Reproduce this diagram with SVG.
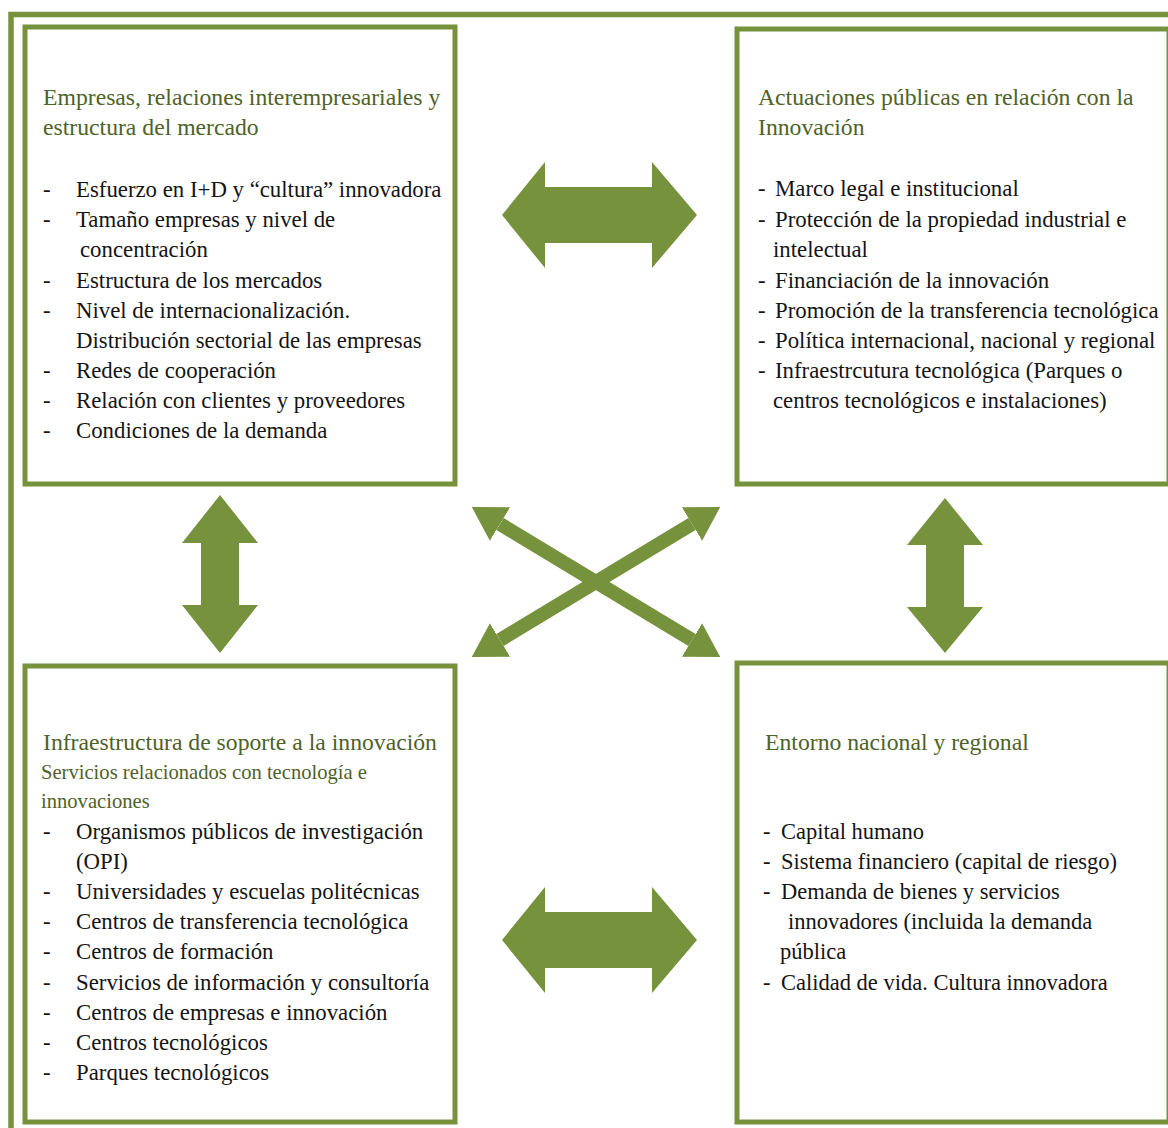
<svg xmlns="http://www.w3.org/2000/svg" width="1168" height="1128" viewBox="0 0 1168 1128">
  <style>
    .frame { fill: none; stroke: #76923C; stroke-width: 5.5; }
    .box { fill: #FFFFFF; stroke: #76923C; stroke-width: 5; }
    text { font-family: "Liberation Serif", "DejaVu Serif", serif; }
    .head { font-size: 23.7px; fill: #4F6228; }
    .sub { font-size: 20.6px; fill: #4F6228; }
    .item { font-size: 22.8px; fill: #141414; }
    #entorno .item { font-size: 22.5px; }
    .block { fill: #76923C; }
    .diag { stroke: #76923C; stroke-width: 14; fill: none; marker-start: url(#tip); marker-end: url(#tip); }
  </style>
  <defs>
    <marker id="tip" markerUnits="userSpaceOnUse" viewBox="0 -20 34 40" refX="0" refY="0" markerWidth="34" markerHeight="40" orient="auto-start-reverse">
      <path d="M0,-19.5 L33,0 L0,19.5 Z" fill="#76923C"/>
    </marker>
  </defs>

  <rect width="1168" height="1128" fill="#FFFFFF"/>

  <!-- outer frame, running off the right and bottom edges -->
  <path class="frame" d="M11,1135 V14.5 H1175"/>

  <!-- top-left: firms -->
  <g id="empresas">
    <rect class="box" x="25" y="27" width="430" height="457"/>
    <text class="head" x="43" y="105">Empresas, relaciones interempresariales y</text>
    <text class="head" x="43" y="135">estructura del mercado</text>
    <text class="item" x="43" y="197">-</text><text class="item" x="76" y="197">Esfuerzo en I+D y “cultura” innovadora</text>
    <text class="item" x="43" y="227">-</text><text class="item" x="76" y="227">Tamaño empresas y nivel de</text>
    <text class="item" x="80" y="257">concentración</text>
    <text class="item" x="43" y="288">-</text><text class="item" x="76" y="288">Estructura de los mercados</text>
    <text class="item" x="43" y="318">-</text><text class="item" x="76" y="318">Nivel de internacionalización.</text>
    <text class="item" x="76" y="348">Distribución sectorial de las empresas</text>
    <text class="item" x="43" y="378">-</text><text class="item" x="76" y="378">Redes de cooperación</text>
    <text class="item" x="43" y="408">-</text><text class="item" x="76" y="408">Relación con clientes y proveedores</text>
    <text class="item" x="43" y="438">-</text><text class="item" x="76" y="438">Condiciones de la demanda</text>
  </g>

  <!-- top-right: public action -->
  <g id="actuaciones">
    <rect class="box" x="737" y="29" width="432" height="455"/>
    <text class="head" x="758" y="105">Actuaciones públicas en relación con la</text>
    <text class="head" x="758" y="135">Innovación</text>
    <text class="item" x="758" y="196">-</text><text class="item" x="775" y="196">Marco legal e institucional</text>
    <text class="item" x="758" y="227">-</text><text class="item" x="775" y="227">Protección de la propiedad industrial e</text>
    <text class="item" x="773" y="257">intelectual</text>
    <text class="item" x="758" y="288">-</text><text class="item" x="775" y="288">Financiación de la innovación</text>
    <text class="item" x="758" y="318">-</text><text class="item" x="775" y="318">Promoción de la transferencia tecnológica</text>
    <text class="item" x="758" y="348">-</text><text class="item" x="775" y="348">Política internacional, nacional y regional</text>
    <text class="item" x="758" y="378">-</text><text class="item" x="775" y="378">Infraestrcutura tecnológica (Parques o</text>
    <text class="item" x="773" y="408">centros tecnológicos e instalaciones)</text>
  </g>

  <!-- bottom-left: support infrastructure -->
  <g id="infraestructura">
    <rect class="box" x="25" y="666" width="430" height="456"/>
    <text class="head" x="43" y="750">Infraestructura de soporte a la innovación</text>
    <text class="sub" x="41" y="779">Servicios relacionados con tecnología e</text>
    <text class="sub" x="41" y="808">innovaciones</text>
    <text class="item" x="43" y="839">-</text><text class="item" x="76" y="839">Organismos públicos de investigación</text>
    <text class="item" x="76" y="869">(OPI)</text>
    <text class="item" x="43" y="899">-</text><text class="item" x="76" y="899">Universidades y escuelas politécnicas</text>
    <text class="item" x="43" y="929">-</text><text class="item" x="76" y="929">Centros de transferencia tecnológica</text>
    <text class="item" x="43" y="959">-</text><text class="item" x="76" y="959">Centros de formación</text>
    <text class="item" x="43" y="990">-</text><text class="item" x="76" y="990">Servicios de información y consultoría</text>
    <text class="item" x="43" y="1020">-</text><text class="item" x="76" y="1020">Centros de empresas e innovación</text>
    <text class="item" x="43" y="1050">-</text><text class="item" x="76" y="1050">Centros tecnológicos</text>
    <text class="item" x="43" y="1080">-</text><text class="item" x="76" y="1080">Parques tecnológicos</text>
  </g>

  <!-- bottom-right: national and regional setting -->
  <g id="entorno">
    <rect class="box" x="737" y="663" width="432" height="459"/>
    <text class="head" x="765" y="750">Entorno nacional y regional</text>
    <text class="item" x="763" y="839">-</text><text class="item" x="781" y="839">Capital humano</text>
    <text class="item" x="763" y="869">-</text><text class="item" x="781" y="869">Sistema financiero (capital de riesgo)</text>
    <text class="item" x="763" y="899">-</text><text class="item" x="781" y="899">Demanda de bienes y servicios</text>
    <text class="item" x="788" y="929">innovadores (incluida la demanda</text>
    <text class="item" x="780" y="959">pública</text>
    <text class="item" x="763" y="990">-</text><text class="item" x="781" y="990">Calidad de vida. Cultura innovadora</text>
  </g>

  <!-- two-way links between the four blocks -->
  <g id="connectors">
    <polygon class="block" points="502,215 545,162 545,187 652,187 652,162 697,215 652,268 652,243 545,243 545,268"/>
    <polygon class="block" points="502,940 545,887 545,912 652,912 652,887 697,940 652,993 652,968 545,968 545,993"/>
    <polygon class="block" points="220,495 258,543 239,543 239,605 258,605 220,653 182,605 201,605 201,543 182,543"/>
    <polygon class="block" points="945,498 983,545 964,545 964,607 983,607 945,653 907,607 926,607 926,545 907,545"/>
    <line class="diag" x1="500" y1="524" x2="692" y2="640"/>
    <line class="diag" x1="692" y1="524" x2="500" y2="640"/>
  </g>
</svg>
